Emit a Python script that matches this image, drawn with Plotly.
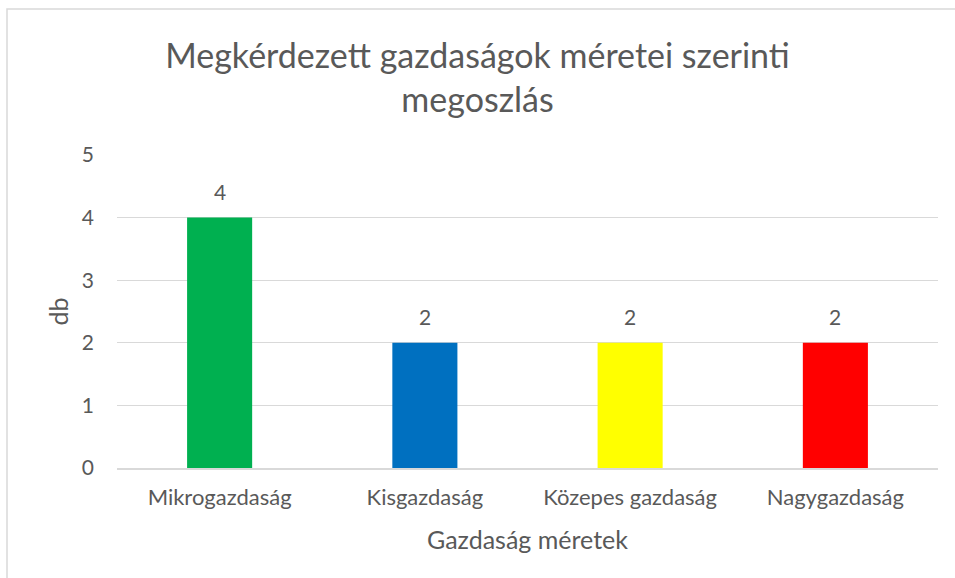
import plotly.graph_objects as go

categories = ["Mikrogazdaság", "Kisgazdaság", "Közepes gazdaság", "Nagygazdaság"]
values = [4, 2, 2, 2]
colors = ["#00B050", "#0070C0", "#FFFF00", "#FF0000"]
y_ticks = [0, 1, 2, 3, 4, 5]

FONT = "Lato"
GRAY = "#595959"

fig = go.Figure()
fig.add_trace(go.Bar(
    x=categories, y=values,
    marker=dict(color=colors, line=dict(width=0)),
    width=0.317,
    hoverinfo="x+y",
))

annotations = [
    dict(x=c, y=v, xref="x", yref="y", text=str(v), showarrow=False,
         yanchor="bottom", yshift=12,
         font=dict(size=21, color=GRAY, family=FONT))
    for c, v in zip(categories, values)
]

fig.update_layout(
    width=955, height=578,
    margin=dict(l=117, r=17, t=155, b=110),
    paper_bgcolor="white", plot_bgcolor="white",
    showlegend=False,
    title=dict(
        text="Megkérdezett gazdaságok méretei szerinti<br>megoszlás",
        x=0.5, xanchor="center", y=1 - 68/578, yanchor="top",
        font=dict(size=34, color=GRAY, family=FONT),
    ),
    xaxis=dict(
        title=dict(text="Gazdaság méretek", font=dict(size=25, color=GRAY, family=FONT), standoff=22),
        tickfont=dict(size=22, color=GRAY, family=FONT),
        showgrid=False, showline=True, linecolor="#D9D9D9", linewidth=1.5,
        ticks="", ticklabelstandoff=9,
    ),
    yaxis=dict(
        title=dict(text="db", font=dict(size=25, color=GRAY, family=FONT), standoff=6),
        tickfont=dict(size=21, color=GRAY, family=FONT),
        range=[0, 5], tickvals=y_ticks,
        showgrid=True, gridcolor="#D9D9D9", gridwidth=1,
        zeroline=False, showline=False, ticks="", ticklabelstandoff=22,
    ),
    annotations=annotations,
    shapes=[dict(
        type="rect", xref="paper", yref="paper",
        x0=-110/821, x1=1.1, y0=-0.5, y1=(468-9)/313,
        line=dict(color="#D9D9D9", width=1.5), fillcolor="rgba(0,0,0,0)",
        layer="below",
    )],
)

fig.write_html("out.html", config={"displayModeBar": False},
               post_script="document.body.style.margin='0';document.body.style.overflow='hidden';")
